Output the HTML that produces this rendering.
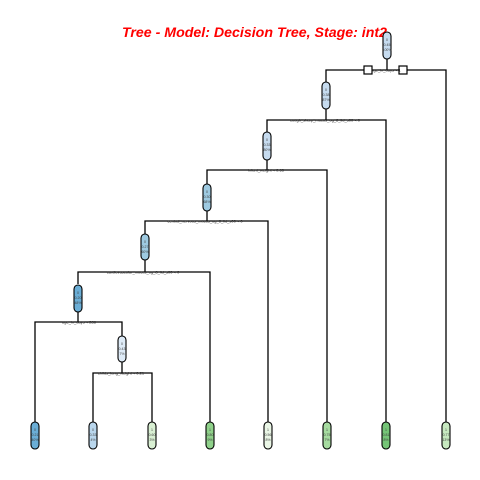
<!DOCTYPE html>
<html><head><meta charset="utf-8"><style>html,body{margin:0;padding:0;background:#fff;}svg{display:block}</style></head>
<body>
<svg width="480" height="480" viewBox="0 0 480 480" xmlns="http://www.w3.org/2000/svg" font-family="Liberation Sans, sans-serif">
<rect width="480" height="480" fill="#fff"/>
<text x="122" y="37" font-size="14" font-weight="bold" font-style="italic" fill="#ff0000" textLength="265" lengthAdjust="spacingAndGlyphs">Tree - Model: Decision Tree, Stage: int2</text>
<g stroke="#000" stroke-width="1.3" fill="none">
<polyline points="326,82 326,70 446,70 446,422"/>
<line x1="387" y1="58" x2="387" y2="70"/>
<polyline points="267,132 267,120 386,120 386,422"/>
<line x1="326" y1="109" x2="326" y2="120"/>
<polyline points="207,184 207,170 327,170 327,422"/>
<line x1="267" y1="160" x2="267" y2="170"/>
<polyline points="145,234 145,221 268,221 268,422"/>
<line x1="207" y1="211" x2="207" y2="221"/>
<polyline points="78,284 78,272 210,272 210,422"/>
<line x1="145" y1="260" x2="145" y2="272"/>
<polyline points="35,422 35,322 122,322 122,336"/>
<line x1="78" y1="312" x2="78" y2="322"/>
<polyline points="93,422 93,373 152,373 152,422"/>
<line x1="122" y1="362" x2="122" y2="373"/>
</g>
<rect x="364" y="66" width="8" height="8" fill="#fff" stroke="#000" stroke-width="1.2"/>
<rect x="399" y="66" width="8" height="8" fill="#fff" stroke="#000" stroke-width="1.2"/>
<g font-size="4" fill="#222" text-anchor="middle">
<text x="386" y="71.5">age_in_days &lt; 1</text>
<text x="325" y="121.5">cough_sharp_mucus_og_8_lid_s00 &lt; 0</text>
<text x="266" y="171.5">infant_weight &lt; 0.65</text>
<text x="205" y="222.5">central_nervous_mucus_og_8_lid_s00 &lt; 0</text>
<text x="143" y="273.5">cardiovascular_mucus_og_8_lid_s00 &lt; 0</text>
<text x="79" y="323.5">age_in_days &lt; 286</text>
<text x="121" y="374.5">childs_lung_weight &lt; 0.21</text>
</g>
<g stroke="#000" stroke-width="1.1">
<rect x="383" y="32" width="8" height="27" rx="4" fill="#c6dbef"/>
<rect x="322" y="82" width="8" height="27" rx="4" fill="#c6dbef"/>
<rect x="263" y="132" width="8" height="28" rx="4" fill="#c6dbef"/>
<rect x="203" y="184" width="8" height="27" rx="4" fill="#9ecae1"/>
<rect x="141" y="234" width="8" height="26" rx="4" fill="#9ecae1"/>
<rect x="74" y="285" width="8" height="27" rx="4" fill="#6baed6"/>
<rect x="118" y="336" width="8" height="26" rx="4" fill="#deebf7"/>
<rect x="31" y="422" width="8" height="27" rx="4" fill="#6baed6"/>
<rect x="89" y="422" width="8" height="27" rx="4" fill="#b9d6ec"/>
<rect x="148" y="422" width="8" height="27" rx="4" fill="#d9f0d3"/>
<rect x="206" y="422" width="8" height="27" rx="4" fill="#8fd18a"/>
<rect x="264" y="422" width="8" height="27" rx="4" fill="#eaf6e6"/>
<rect x="323" y="422" width="8" height="27" rx="4" fill="#a6dba0"/>
<rect x="382" y="422" width="8" height="27" rx="4" fill="#74c476"/>
<rect x="442" y="422" width="8" height="27" rx="4" fill="#c7e9c0"/>
</g>
<g font-size="3.5" fill="#444" text-anchor="middle">
<text x="387" y="41">0</text><text x="387" y="46">0.45</text><text x="387" y="51">100%</text>
<text x="326" y="91">0</text><text x="326" y="96">0.38</text><text x="326" y="101">87%</text>
<text x="267" y="141">0</text><text x="267" y="146">0.33</text><text x="267" y="151">80%</text>
<text x="207" y="193">0</text><text x="207" y="198">0.30</text><text x="207" y="203">68%</text>
<text x="145" y="243">0</text><text x="145" y="248">0.27</text><text x="145" y="253">60%</text>
<text x="78" y="294">0</text><text x="78" y="299">0.20</text><text x="78" y="304">48%</text>
<text x="122" y="345">0</text><text x="122" y="350">0.43</text><text x="122" y="355">7%</text>
<text x="35" y="431">0</text><text x="35" y="436">0.21</text><text x="35" y="441">40%</text>
<text x="93" y="431">0</text><text x="93" y="436">0.33</text><text x="93" y="441">4%</text>
<text x="152" y="431">1</text><text x="152" y="436">0.60</text><text x="152" y="441">3%</text>
<text x="210" y="431">1</text><text x="210" y="436">0.80</text><text x="210" y="441">9%</text>
<text x="268" y="431">1</text><text x="268" y="436">0.56</text><text x="268" y="441">8%</text>
<text x="327" y="431">1</text><text x="327" y="436">0.75</text><text x="327" y="441">7%</text>
<text x="386" y="431">1</text><text x="386" y="436">0.81</text><text x="386" y="441">8%</text>
<text x="446" y="431">1</text><text x="446" y="436">0.77</text><text x="446" y="441">13%</text>
</g>
</svg>
</body></html>
